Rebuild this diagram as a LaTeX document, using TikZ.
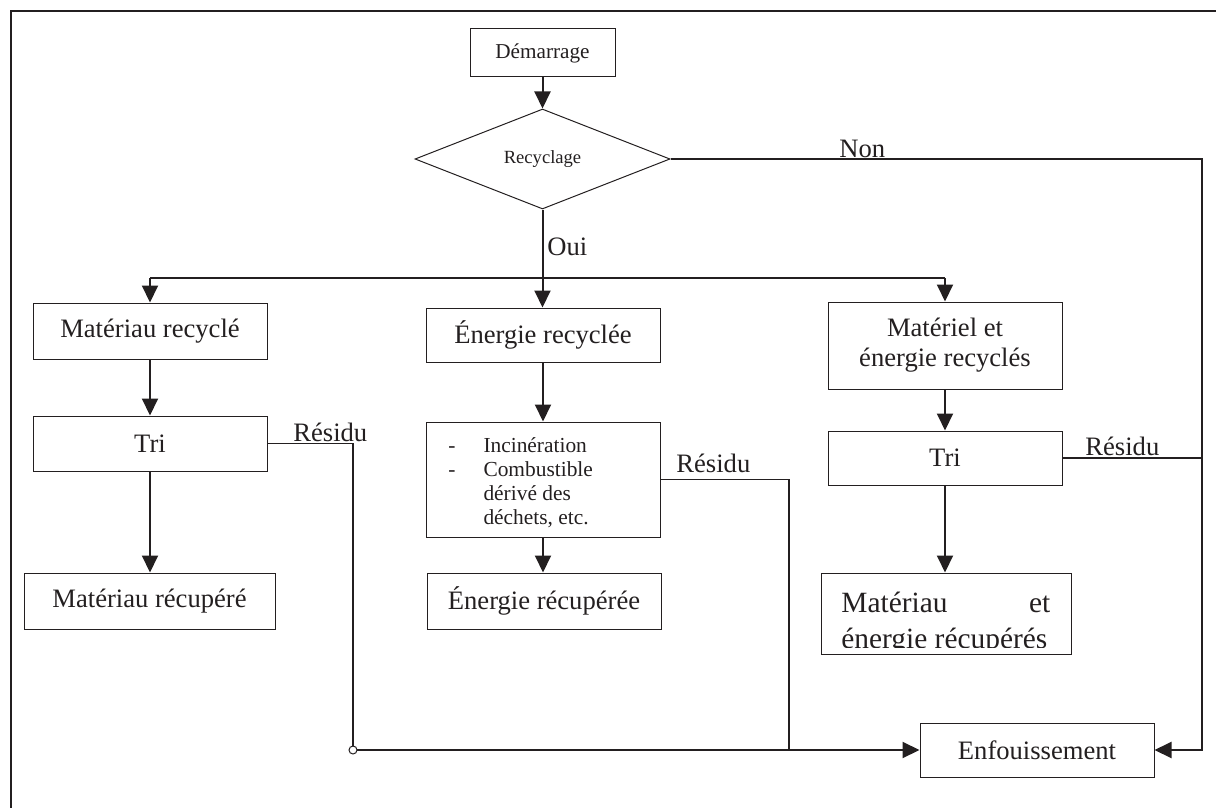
\documentclass[tikz,border=0pt]{standalone}
\usepackage{fontspec}
\setmainfont{Liberation Serif}
\usetikzlibrary{arrows.meta,shapes.geometric}
\definecolor{ink}{HTML}{231F20}
\begin{document}
\begin{tikzpicture}[x=0.5pt,y=-0.5pt,
  box/.style={draw=ink,line width=0.5pt,inner sep=0pt,text=ink,align=center},
  big/.style={font=\fontsize{13.3}{15}\selectfont},
  conn/.style={draw=ink,line width=1pt},
  arr/.style={conn,-{Triangle[length=8.5pt,width=8pt]}},
  res/.style={draw=ink,line width=0.75pt},
  lbl/.style={inner sep=0pt,anchor=base west,text=ink,font=\fontsize{13.3}{15}\selectfont}]
\useasboundingbox (0,0) rectangle (1216,808);
% frame
\draw[ink,line width=1pt] (11,808) -- (11,11) -- (1216,11);
% nodes
\node[box,minimum width=72.5pt,minimum height=24pt,font=\fontsize{10.6}{12}\selectfont] (start) at (542.5,53) {Démarrage};
\node[box,diamond,minimum width=127.5pt,minimum height=50pt,font=\fontsize{9.3}{11}\selectfont] (dec) at (542.5,159) {Recyclage};
\node[box,big,minimum width=117pt,minimum height=28pt] (mr) at (150,331) {Matériau recyclé};
\node[box,big,minimum width=117pt,minimum height=27.5pt] (tri1) at (150,443.5) {Tri};
\node[box,big,minimum width=125.5pt,minimum height=28pt] (mrec) at (149.5,601) {Matériau récupéré};
\node[box,big,minimum width=117pt,minimum height=27pt] (er) at (543,335) {Énergie recyclée};
\node[box,minimum width=117pt,minimum height=57.5pt] (inc) at (543,479.5) {};
\node[inner sep=0pt,anchor=base west,text=ink,font=\fontsize{10.7}{12}\selectfont] (inctext) at (448,452)
  {\begin{tabular}[t]{@{}l@{\hspace{14pt}}l@{}}-&Incinération\\-&Combustible\\&dérivé des\\&déchets, etc.\end{tabular}};
\node[box,big,minimum width=117pt,minimum height=28pt] (erec) at (544,601) {Énergie récupérée};
\node[box,big,minimum width=117pt,minimum height=43.5pt] (mer) at (945,345.5) {Matériel et\\énergie recyclés};
\node[box,big,minimum width=117pt,minimum height=27pt] (tri2) at (945,458) {Tri};
\node[box,minimum width=125pt,minimum height=40.5pt] (mrer) at (946,613.5) {};
\begin{scope}
  \clip (821,573) rectangle (1071,647.5);
  \node[inner sep=0pt,anchor=base west,text=ink,font=\fontsize{14.7}{18}\selectfont] (mrertext) at (841,612)
    {\begin{tabular}[t]{@{}l@{}}\hbox to 104.5pt{Matériau\hfill et}\\énergie récupérés\end{tabular}};
\end{scope}
\node[box,big,minimum width=117pt,minimum height=27pt] (enf) at (1037,750) {Enfouissement};
% coordinates
\coordinate (busL) at (150,278);
\coordinate (busR) at (945,278);
\coordinate (nonA) at (1202,159);
\coordinate (nonB) at (1202,750);
\coordinate (r1a) at (353,443.5);
\coordinate (r1b) at (353,750);
\coordinate (r2a) at (789,479.5);
\coordinate (r2b) at (789,750);
\coordinate (r3a) at (1202,458);
% connectors
\draw[arr] (start.south) -- (dec.north);
\draw[arr] (dec.south) -- (dec.south |- er.north);
\draw[conn] (busL) -- (busR);
\draw[arr] (busL) -- (mr.north);
\draw[arr] (busR) -- (mer.north);
\draw[arr] (mr.south) -- (tri1.north);
\draw[arr] (tri1.south) -- (tri1.south |- mrec.north);
\draw[arr] (er.south) -- (inc.north);
\draw[arr] (inc.south) -- (inc.south |- erec.north);
\draw[arr] (mer.south) -- (tri2.north);
\draw[arr] (tri2.south) -- (tri2.south |- mrer.north);
\draw[arr] (dec.east) -- (nonA) -- (nonB) -- (enf.east);
\draw[res] (tri1.east) -- (r1a) -- (r1b);
\draw[arr] (r1b) -- (enf.west);
\draw[res] (inc.east) -- (r2a) -- (r2b);
\draw[res] (tri2.east) -- (r3a);
\draw[ink,line width=0.5pt,fill=white] (r1b) circle[radius=2pt];
% labels
\node[lbl] (non) at (839,158) {Non};
\node[lbl] (oui) at (547,255) {Oui};
\node[lbl] (res1) at (293,441) {Résidu};
\node[lbl] (res2) at (676,472) {Résidu};
\node[lbl] (res3) at (1085,455) {Résidu};
\end{tikzpicture}
\end{document}
